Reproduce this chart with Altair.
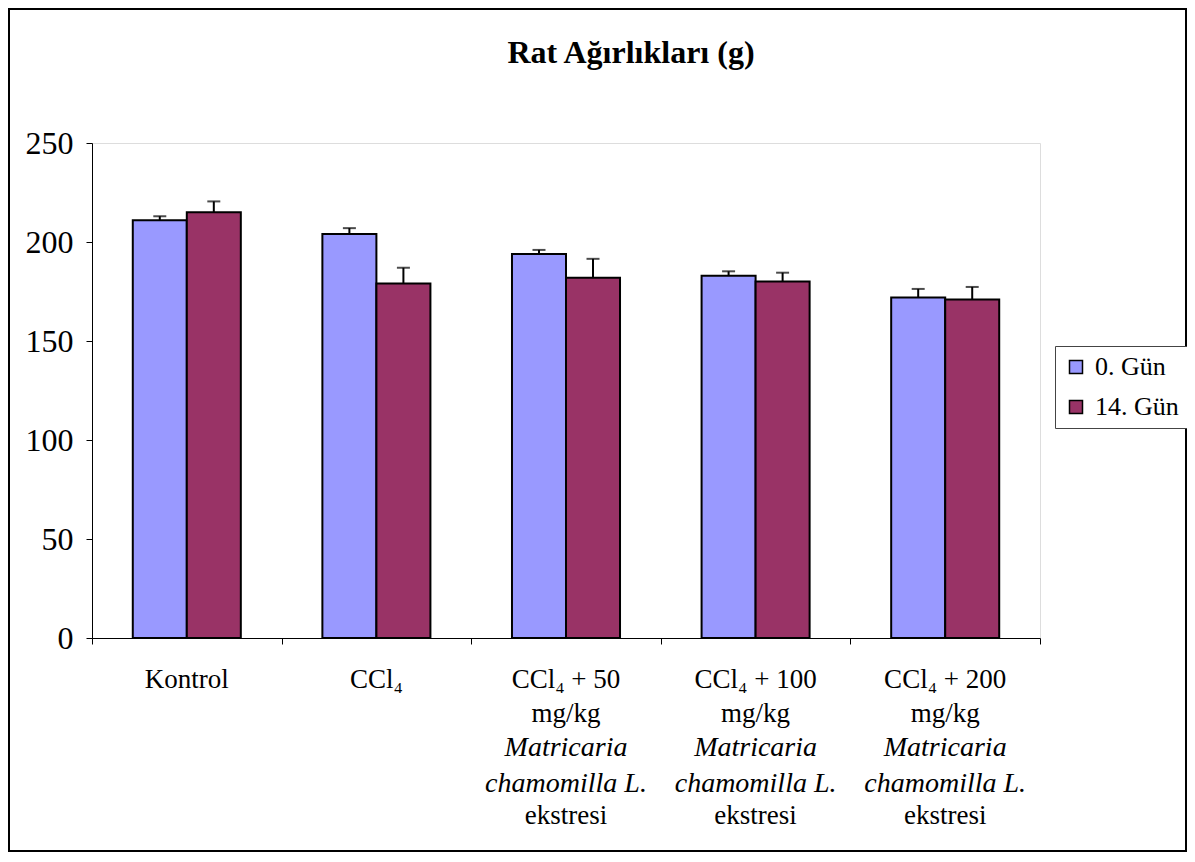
import altair as alt
import pandas as pd

# ---- data ----
categories = ["Kontrol", "CCl₄", "CCl₄ + 50", "CCl₄ + 100", "CCl₄ + 200"]
series = ["0. Gün", "14. Gün"]
day0_values = [211, 204, 194, 183, 172]
day0_errors = [2, 3, 2, 2.2, 4.3]
day14_values = [215, 179, 182, 180, 171]
day14_errors = [5.5, 8, 9.5, 4.5, 6.3]
colors = ["#9999FF", "#993366"]

label_lines = [
    ["Kontrol"],
    ["CCl₄"],
    ["CCl₄ + 50", "mg/kg", "Matricaria", "chamomilla L.", "ekstresi"],
    ["CCl₄ + 100", "mg/kg", "Matricaria", "chamomilla L.", "ekstresi"],
    ["CCl₄ + 200", "mg/kg", "Matricaria", "chamomilla L.", "ekstresi"],
]
italic_lines = [2, 3]
title_text = "Rat Ağırlıkları (g)"
y_ticks = [0, 50, 100, 150, 200, 250]

# ---- layout ----
W, H = 948, 495
PAD_L, PAD_T, PAD_R, PAD_B = 84, 135, 147, 214
FONT = "Liberation Serif"
line_baselines = [545, 579, 613, 649, 681]

rows = []
for c, v, e in zip(categories, day0_values, day0_errors):
    rows.append({"group": c, "series": series[0], "value": v, "upper": v + e})
for c, v, e in zip(categories, day14_values, day14_errors):
    rows.append({"group": c, "series": series[1], "value": v, "upper": v + e})
df = pd.DataFrame(rows)

lab_rows = []
for c, lines in zip(categories, label_lines):
    for i, t in enumerate(lines):
        lab_rows.append({"group": c, "line": i, "text": t})
lab_df = pd.DataFrame(lab_rows)

X = alt.X(
    "group:N",
    sort=categories,
    scale=alt.Scale(domain=categories, paddingInner=0, paddingOuter=0),
    axis=alt.Axis(
        labels=False, title=None, tickBand="extent", ticks=True, tickSize=6,
        tickColor="black", domainColor="black", domainWidth=1, grid=False,
    ),
)
XO = alt.XOffset(
    "series:N", sort=series,
    scale=alt.Scale(domain=series, paddingInner=0, paddingOuter=0.755),
)
Y = alt.Y(
    "value:Q",
    scale=alt.Scale(domain=[0, 250], nice=False, zero=True),
    axis=alt.Axis(
        values=y_ticks, title=None, grid=False, tickSize=6, tickColor="black",
        domainColor="black", labelFontSize=32, labelFont=FONT, labelColor="black",
        labelPadding=13,
    ),
)

base = alt.Chart(df)

bars = base.mark_bar(stroke="black", strokeWidth=2).encode(
    x=X, xOffset=XO, y=Y,
    color=alt.Color(
        "series:N", sort=series,
        scale=alt.Scale(domain=series, range=colors),
        legend=alt.Legend(
            orient="none", legendX=963, legendY=203, title=None,
            strokeColor="#444", fillColor="white", padding=8,
            labelFont=FONT, labelFontSize=26, labelColor="black",
            symbolType="square", symbolSize=169, symbolStrokeColor="black",
            symbolStrokeWidth=1.5, rowPadding=14, labelOffset=6,
        ),
    ),
)

err_rule = base.mark_rule(color="black", strokeWidth=2).encode(
    x=X, xOffset=XO, y=alt.Y("value:Q"), y2="upper:Q"
)
err_cap = base.mark_tick(color="black", size=13, thickness=2).encode(
    x=X, xOffset=XO, y=alt.Y("upper:Q")
)

layers = [bars, err_rule, err_cap]

for i, yb in enumerate(line_baselines):
    sub = lab_df[lab_df["line"] == i]
    is_it = i in italic_lines
    layers.append(
        alt.Chart(sub).mark_text(
            baseline="alphabetic", align="center", font=FONT,
            fontSize=28 if is_it else 27,
            color="black", fontStyle="italic" if is_it else "normal",
        ).encode(x=X, y=alt.value(yb), text="text:N")
    )

one = pd.DataFrame({"t": [title_text]})
title = alt.Chart(one).mark_text(
    baseline="alphabetic", align="center", font=FONT, fontSize=32,
    fontWeight="bold", color="black",
).encode(x=alt.value(539), y=alt.value(-80), text="t:N")

border = alt.Chart(one).mark_rect(
    filled=False, stroke="black", strokeWidth=2
).encode(
    x=alt.value(-PAD_L + 1), x2=alt.value(W + PAD_R - 1),
    y=alt.value(-PAD_T + 1), y2=alt.value(H + PAD_B - 1),
)
layers += [title, border]

chart = alt.layer(*layers).properties(
    width=W, height=H,
    autosize=alt.AutoSizeParams(type="none"),
    padding={"left": PAD_L, "top": PAD_T, "right": PAD_R, "bottom": PAD_B},
).configure_view(stroke=None).configure(background="white")

chart.save("out.html", embed_options={"renderer": "svg", "actions": False})
